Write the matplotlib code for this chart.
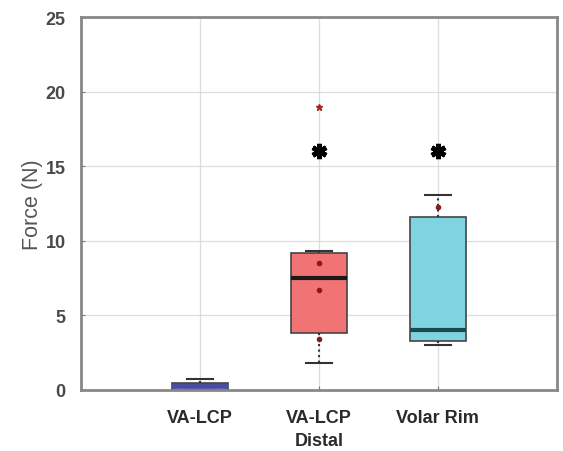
import matplotlib.pyplot as plt

plt.rcParams['font.family'] = ['Liberation Sans', 'DejaVu Sans']

# groups and box statistics
groups = ["VA-LCP", "VA-LCP\nDistal", "Volar Rim"]
whislo = [0.0, 1.8, 3.0]
q1 = [0.0, 3.8, 3.3]
med = [0.3, 7.5, 4.0]
q3 = [0.5, 9.2, 11.6]
whishi = [0.75, 9.3, 13.1]
fliers = [[], [19.0], []]
box_colors = ["#5d5fbc", "#f27373", "#7fd4e2"]
median_colors = ["#4a4c9c", "#1a1a1a", "#1d4a4a"]

# individual measurements drawn on top (small dots)
points_x = [2, 2, 2, 3]
points_y = [8.5, 6.7, 3.4, 12.3]

# significance asterisks
star_x = [2, 3]
star_y = [16.0, 16.0]

stats = []
for i, name in enumerate(groups):
    stats.append({
        "label": name, "whislo": whislo[i], "q1": q1[i], "med": med[i],
        "q3": q3[i], "whishi": whishi[i], "fliers": fliers[i],
    })

fig = plt.figure(figsize=(5.63, 4.52), dpi=100)
ax = fig.add_axes([0.144, 0.135, 0.845, 0.825])

ax.grid(True, color="#dddddd", linewidth=0.9)
ax.set_axisbelow(True)

bp = ax.bxp(stats, positions=[1, 2, 3], widths=0.47, patch_artist=True,
            showfliers=True, capwidths=0.22,
            boxprops=dict(edgecolor="#444444", linewidth=1.2),
            whiskerprops=dict(color="#333333", linestyle=":", linewidth=1.5),
            capprops=dict(color="#333333", linewidth=1.5),
            flierprops=dict(marker="*", markersize=5, markerfacecolor="#a02828",
                            markeredgecolor="#a02828"))
for patch, c in zip(bp["boxes"], box_colors):
    patch.set_facecolor(c)
for line, c in zip(bp["medians"], median_colors):
    line.set_color(c)
    line.set_linewidth(3)

ax.plot(points_x, points_y, linestyle="none", marker="o", markersize=3,
        color="#8b1a1a")
ax.plot(star_x, star_y, linestyle="none", marker=(6, 2, 0), markersize=11,
        markeredgewidth=3.5, color="black")

ax.set_xlim(0, 4)
ax.set_ylim(0, 25)
ax.set_yticks([0, 5, 10, 15, 20, 25])
ax.set_xticks([1, 2, 3])
ax.set_xticklabels(groups, fontsize=13, fontweight="bold", color="#2a2a2a",
                   linespacing=1.4)
for lab in ax.get_yticklabels():
    lab.set_fontsize(13)
    lab.set_fontweight("bold")
    lab.set_color("#4a4a4a")
ax.set_ylabel("Force (N)", fontsize=15.5, color="#555555", labelpad=2)

ax.tick_params(direction="in", length=3, color="#777777")
ax.tick_params(axis="x", pad=14)
ax.tick_params(axis="y", pad=11)
for sp in ax.spines.values():
    sp.set_color("#888888")
    sp.set_linewidth(2)

fig.savefig("out.png", dpi=100)
